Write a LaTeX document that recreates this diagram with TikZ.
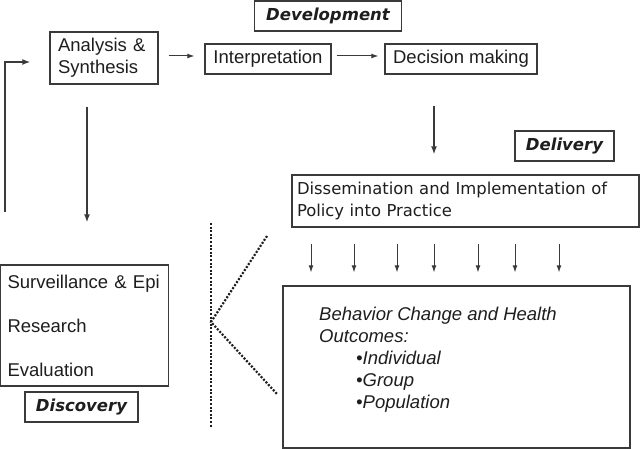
\documentclass[tikz,border=0pt]{standalone}
\usepackage{fontspec}
\setmainfont{Liberation Sans}
\newfontfamily\verd{DejaVu Sans}
\usetikzlibrary{arrows.meta}
\definecolor{linec}{HTML}{3A3A3A}
\definecolor{txtc}{HTML}{1E1E1E}
\begin{document}
\begin{tikzpicture}[x=1pt,y=-1pt,
  box/.style={draw=linec, line width=1.3pt, inner sep=0pt, text=txtc},
  txt/.style={font=\fontsize{18.5}{22}\selectfont},
  lbl/.style={box, font=\verd\bfseries\itshape\fontsize{16.5}{20}\selectfont},
  arr/.style={draw=linec, line width=1pt, -{Latex[length=7pt,width=5pt]}},
  tarr/.style={draw=linec, line width=2pt, -{Latex[length=8pt,width=6pt]}},
  dots/.style={draw=txtc, line width=2.2pt, dash pattern=on 2pt off 1.6pt}
]
\useasboundingbox (0,0) rectangle (640,449);
\fill[white] (0,0) rectangle (640,449);

\node[lbl, minimum width=147pt, minimum height=30pt] (dev) at (328,16) {Development};
\node[box, txt, minimum height=52pt, text width=92pt, inner xsep=8pt, align=left] (ana) at (104,58) {Analysis \&\\Synthesis};
\node[box, txt, minimum width=126pt, minimum height=30pt] (int) at (268,59) {Interpretation};
\node[box, txt, minimum width=152pt, minimum height=30pt] (dec) at (461,59) {Decision making};
\node[lbl, minimum width=99pt, minimum height=30pt] (del) at (564.5,146) {Delivery};
\node[box, font=\verd\fontsize{16.4}{22}\selectfont, text width=337pt, inner xsep=5pt, minimum height=52pt, align=left] (dis) at (465.5,201) {Dissemination and Implementation of\\Policy into Practice};
\node[box, txt, text width=154pt, inner xsep=7pt, minimum height=121pt, align=left] (sur) at (84.5,325.5) {Surveillance \& Epi\\[22pt]Research\\[22pt]Evaluation};
\node[lbl, minimum width=113pt, minimum height=30pt] (disc) at (81.5,407) {Discovery};
\node[box, minimum width=347pt, minimum height=162pt] (beh) at (456.5,367) {};
\node[text=txtc, font=\itshape\fontsize{18.5}{22}\selectfont, align=left, inner sep=0pt, anchor=west] (behtxt) at (319,360) {Behavior Change and Health\\Outcomes:\\\hspace*{37pt}•Individual\\\hspace*{37pt}•Group\\\hspace*{37pt}•Population};

\coordinate (colA) at (434,0);
\coordinate (colB) at (87,0);
\coordinate (fb1) at (5,212);

\draw[arr, shorten <=10pt, shorten >=10pt] ([yshift=3pt]int.west -| ana.east) -- ([yshift=3pt]int.west);
\draw[arr, shorten <=5pt, shorten >=6pt] ([yshift=3pt]int.east) -- ([yshift=3pt]dec.west);
\draw[tarr, shorten <=31pt, shorten >=20pt] (dec.south -| colA) -- (dis.north -| colA);
\draw[tarr, shorten <=22pt, shorten >=42pt] (ana.south -| colB) -- (sur.north -| colB);
\draw[tarr, shorten >=19pt] (fb1) |- ([yshift=-4pt]ana.west);

\foreach \x [count=\i] in {311,354,397,434,478,515,559} {
  \coordinate (k\i) at (\x,0);
  \draw[arr, shorten <=16pt, shorten >=13pt] (dis.south -| k\i) -- (beh.north -| k\i);
}

\coordinate (v) at (211,322);
\coordinate (vt) at (211,223);
\coordinate (vb) at (211,427);
\coordinate (dt) at (267,236);
\coordinate (db) at (277,394);
\draw[dots] (vt) -- (vb);
\draw[dots] (dt) -- (v) -- (db);
\end{tikzpicture}
\end{document}
